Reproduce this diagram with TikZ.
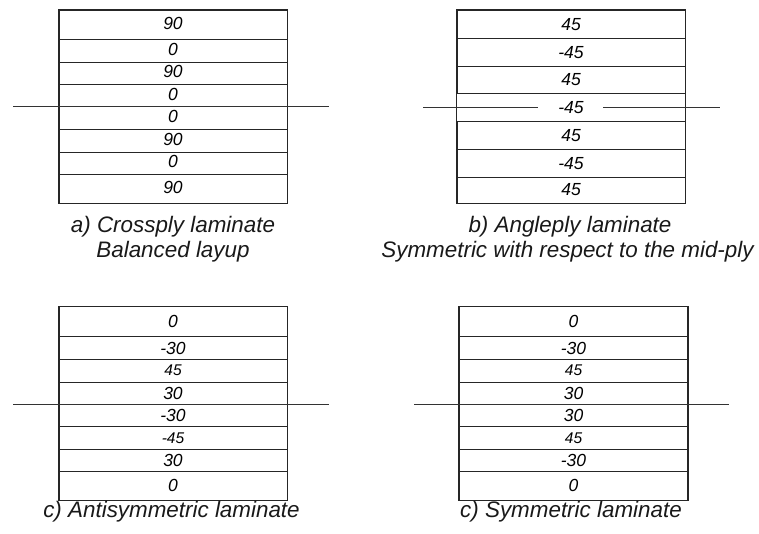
\documentclass[tikz,border=0pt]{standalone}
\usepackage{fontspec}
\setmainfont{Liberation Sans}
\newcommand{\plyer}[6][]{\node[ply,#1,minimum height={#5-#4}] (#2) at (#3,{(#4+#5)/2}) {#6};}
\begin{document}
\begin{tikzpicture}[x=1pt,y=-1pt,
  ply/.style={draw=black!85, line width=0.8pt, minimum width=228pt, inner sep=0pt,
    font=\fontsize{17.5}{17.5}\selectfont\itshape},
  raised/.style={text depth=3pt},
  small/.style={font=\fontsize{15.5}{15.5}\selectfont\itshape},
  frame/.style={draw=black!85, line width=1.4pt},
  midline/.style={draw=black!80, line width=0.8pt},
  caption/.style={font=\fontsize{22.4}{25}\selectfont\itshape, inner sep=0pt, text=black!90}]
\useasboundingbox (0,0) rectangle (759,533);

% ---- panel a
\plyer[raised]{a1}{173}{10}{39.3}{90}
\plyer[raised]{a2}{173}{39.3}{62}{0}
\plyer[raised]{a3}{173}{62}{84.7}{90}
\plyer[raised]{a4}{173}{84.7}{106.7}{0}
\plyer[raised]{a5}{173}{106.7}{129.3}{0}
\plyer[raised]{a6}{173}{129.3}{152}{90}
\plyer[raised]{a7}{173}{152}{174}{0}
\plyer[raised]{a8}{173}{174}{203}{90}
\draw[frame] (a1.north west) rectangle (a8.south east);
\coordinate (amL) at (13,106.7);
\coordinate (amR) at (329,106.7);
\draw[midline] (amL) -- (amR);
\node[caption] (capa1) at (173,227) {a) Crossply laminate};
\node[caption] (capa2) at (173,252) {Balanced layup};

% ---- panel b
\plyer{b1}{571}{10}{38.7}{45}
\plyer{b2}{571}{38.7}{66}{-45}
\plyer{b3}{571}{66}{93.7}{45}
\plyer[draw=none]{b4}{571}{93.7}{121.7}{-45}
\plyer{b5}{571}{121.7}{149.3}{45}
\plyer{b6}{571}{149.3}{177}{-45}
\plyer{b7}{571}{177}{203}{45}
\draw[frame] (b1.north west) rectangle (b7.south east);
\coordinate (bmL) at (423,107);
\coordinate (bmLi) at (538,107);
\coordinate (bmRi) at (603,107);
\coordinate (bmR) at (720,107);
\draw[midline] (bmL) -- (bmLi);
\draw[midline] (bmRi) -- (bmR);
\node[caption] (capb1) at (570,227) {b) Angleply laminate};
\node[caption] (capb2) at (567.5,252) {Symmetric with respect to the mid-ply};

% ---- panel c
\plyer{c1}{173}{306.7}{336.7}{0}
\plyer{c2}{173}{336.7}{359.3}{-30}
\plyer[small]{c3}{173}{359.3}{382}{45}
\plyer{c4}{173}{382}{404}{30}
\plyer{c5}{173}{404}{426.7}{-30}
\plyer[small]{c6}{173}{426.7}{449.3}{-45}
\plyer{c7}{173}{449.3}{471.7}{30}
\plyer{c8}{173}{471.7}{500}{0}
\draw[frame] (c1.north west) rectangle (c8.south east);
\coordinate (cmL) at (13,404);
\coordinate (cmR) at (329,404);
\draw[midline] (cmL) -- (cmR);
\node[caption] (capc) at (171.5,512) {c) Antisymmetric laminate};

% ---- panel d
\plyer{d1}{573.5}{306.7}{336.7}{0}
\plyer{d2}{573.5}{336.7}{359.3}{-30}
\plyer[small]{d3}{573.5}{359.3}{382}{45}
\plyer{d4}{573.5}{382}{404}{30}
\plyer{d5}{573.5}{404}{426.7}{30}
\plyer[small]{d6}{573.5}{426.7}{449.3}{45}
\plyer{d7}{573.5}{449.3}{471.7}{-30}
\plyer{d8}{573.5}{471.7}{500}{0}
\draw[frame] (d1.north west) rectangle (d8.south east);
\coordinate (dmL) at (414,404);
\coordinate (dmR) at (729.3,404);
\draw[midline] (dmL) -- (dmR);
\node[caption] (capd) at (571,512) {c) Symmetric laminate};
\end{tikzpicture}
\end{document}
